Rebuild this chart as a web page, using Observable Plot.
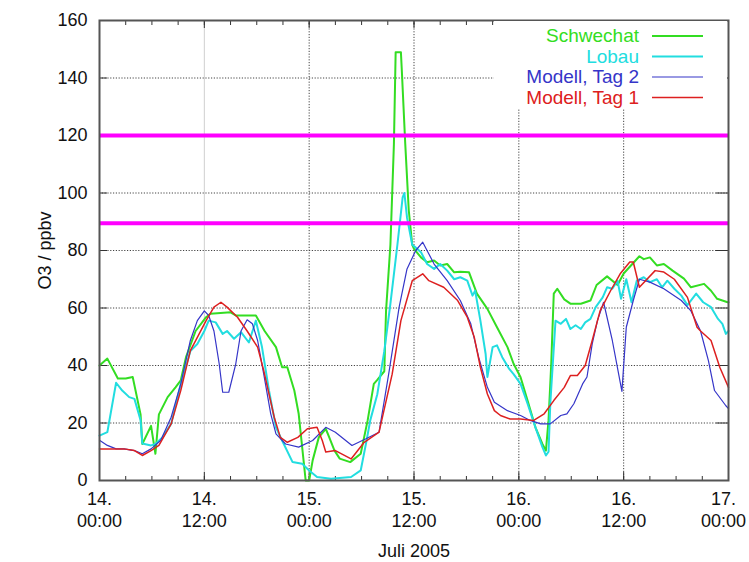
<!DOCTYPE html>
<html><head><meta charset="utf-8">
<script src="https://cdn.jsdelivr.net/npm/d3@7"></script>
<script src="https://cdn.jsdelivr.net/npm/@observablehq/plot@0.6"></script>
<style>
body{margin:0;background:#fff;}
#wrap{position:relative;width:749px;height:562px;font-family:"Liberation Sans",Arial,sans-serif;}
#legend{position:absolute;left:494px;top:21px;width:233px;height:87px;background:#fff;}
#legend .lab{position:absolute;right:88px;font-size:19px;line-height:22px;white-space:nowrap;}
#legend svg{position:absolute;left:0;top:0;}
</style></head>
<body><div id="wrap"></div>
<script>
// ---- data (hours after 14 July 2005 00:00, ppbv) ----
const schwechatH = [0,0.9,2.1,3,3.8,4.7,4.9,5.9,6.4,6.8,7.8,8.7,9.3,9.9,11,12.2,12.7,15,15.6,17.9,18.9,20.2,20.9,21.5,22.3,22.8,23.4,23.6,24,24.4,25.1,25.9,26.3,26.9,27.5,28.7,29.9,30.7,31.4,31.8,32.6,32.8,33.3,33.7,33.9,34.5,34.6,35,35.4,35.8,36,36.8,37.5,38.3,39,39.8,40.6,41.3,42.3,43.2,44.4,45.5,46.7,47.4,48.2,49,49.9,50.7,51.1,51.4,51.7,52,52.4,53.2,53.9,55.1,56.2,56.9,58.1,59.3,60,61.8,62.3,63,63.8,64.6,65.6,66.9,67.7,69.2,70,70.7,71.9,72];
const schwechatV = [40,42.4,35.5,35.5,36,23,12.7,19,9.3,23,29,32.4,34.8,42.9,52,56.8,58,58.5,57.4,57.4,52,46.4,39.4,39.4,31.3,23.2,5.8,0,0,7,15,18,15,10.4,7.6,6.4,9.3,21,33.6,35,38,59,82,117,149,149,143,117,94,82,80.6,77.6,75.9,76.5,74.8,75.3,72.4,72.6,72.4,65,59.7,53.3,46.4,40.6,35.9,27.8,18.5,12.7,10.4,21,40,65,66.7,63,61.5,61.5,62.6,68,71,68,72,78,77,77.6,74.8,75.3,73,70.2,67.2,68.4,66,63.2,62,62];

const lobauH = [0,0.9,1.9,2.6,3.4,4,4.7,4.9,5.9,6.4,7.2,8.2,9.3,10.4,11.2,12,12.5,13.3,14.1,14.6,15.4,16.2,17.1,17.9,18.6,19.4,20.2,20.9,22.1,23.2,24,24.9,26.5,28.8,29.9,30.5,31,31.8,32.6,33.3,34.1,34.7,34.9,35.2,35.8,36.2,36.8,37.5,38.3,39,39.8,40.6,41.3,42.1,42.7,43,43.6,44.2,44.4,45,45.5,46.1,46.9,47.4,48.2,49,49.9,50.7,51.1,51.4,51.6,52.2,52.8,53.4,53.9,54.5,55.1,55.6,56.2,56.8,57.6,58.1,58.7,59.3,59.7,60.3,60.9,61.5,62.3,63,63.8,64.4,65,65.8,66.6,67.3,68.3,69.1,70,70.8,71.3,71.7,72];
const lobauV = [15.6,16.8,34,31.3,29,28.4,21,12.9,12.2,12.7,15,19.7,33.6,45,47.5,52,55.6,55,51,52,49.3,51.6,48,55.6,46.4,31.3,18.5,13.9,6.4,5.8,3.5,1.2,0.6,1.2,3.5,12.8,21,30,45,61.5,82,98.5,100,91.5,82,81,79.4,75.3,73.6,75.3,73,70,70.7,69.5,64.3,66,55.6,44,36,46.4,47,42.9,38.8,37,33.6,26.7,18.5,11.6,8.7,10,26.7,55.6,54.5,56.2,52.7,54,52.7,55,56.2,60.3,63.7,67.2,66.7,69.5,63.2,70,62,69.5,70.7,69,70,67.2,69.5,66.7,64.3,61,65,62,60.3,56.2,54.5,51,52];

const tag2H = [0,0.9,1.9,2.8,4,4.9,5.9,7,8.2,9.3,10.4,11.2,12,12.5,13.1,13.7,14.1,14.8,15.6,16.2,16.9,17.5,18.1,18.8,19.6,20.2,21.3,22.8,24.4,25.9,27,28.9,30.5,32,33.1,34.3,35.2,36.2,37,38.3,39.8,41.3,42.5,43.4,44.4,45.2,46.7,48.2,49.3,50.5,51.6,52.8,53.5,54.3,55.3,55.8,56.4,57,57.7,58.7,59.8,60.3,61.1,61.8,63,64.6,66.6,67.7,68.8,69.7,70.4,71.7,72];
const tag2V = [14,12.2,11,11,10.4,9.3,11,13.9,22,33.6,48.7,55.6,59,57.4,52,40.6,30.7,30.7,40.6,52,55.9,54.5,48.7,37,23.2,16.2,12.7,11.6,13.9,18.5,16.8,12.2,14.5,16.8,37,60.3,73.6,80,82.9,75.3,69.5,62.6,54.5,42.9,32.4,27.2,24.3,22.6,20.9,19.7,19.7,22.6,23.2,26.7,33.6,36,47.5,55.6,62,48.7,31,53.3,62.6,70,69,66.7,62.6,59,52,41.7,31.3,26,25];

const tag1H = [0,1.9,2.8,4,4.9,5.9,6.8,8.2,9.3,10.4,11.2,12.2,13.1,13.9,14.6,15.8,16.9,18.1,18.8,20,20.7,21.5,22.7,23.8,24.9,25.5,25.9,27,28.8,30.3,32,33.5,34.5,35.8,37,37.7,39.4,41,42.1,42.9,43.6,44.4,45.2,45.9,47,48.2,49.7,50.9,52,53.2,53.9,54.7,55.6,56.4,57.3,58.5,59.6,60.7,61.1,61.8,63.6,64.6,65.8,67.3,68.4,68.8,70,71,72];
const tag1V = [11,11,11,10.4,8.7,10.4,12.2,19.7,31.3,45.2,49.8,55.6,60.3,62,60.3,56.8,52,46.4,38.2,22,15,13.3,15,18,18.5,13.9,9.9,10.4,7.5,13.3,16.8,37,55.6,69.5,71.9,69.5,67.2,62.6,56.8,49.8,39.4,30.1,24.3,22.6,21.4,21.4,20.9,23.2,27.8,32.4,36.5,36.5,40,48.7,59,66,71.9,76,76,67.2,73,72.5,70,63.7,53.3,52,48.7,39.4,32.4];

const seriesNames = ["Schwechat","Lobau","Modell, Tag 2","Modell, Tag 1"];
const seriesColors = ["#33dd22","#22dde0","#3535c8","#dd2020"];
const seriesWidths = [2,2,1.2,1.5];
const thresholds = [120, 89.5];
const yTicks = [0,20,40,60,80,100,120,140,160];
const yGrid = [20,40,60,80,100,120,140];
const xTickHours = [0,12,24,36,48,60,72];
const xTickLabels = ["14.\n00:00","14.\n12:00","15.\n00:00","15.\n12:00","16.\n00:00","16.\n12:00","17.\n00:00"];
const xGridDotted = [24,36,48,60];
const xGridLight = [12];
const minorHours = d3.range(0,73,3);

const t0 = Date.UTC(2005,6,14);
const toDate = h => new Date(t0 + h*3600000);
const mk = (H,V) => H.map((h,i)=>({t:toDate(h), v:V[i]}));
const series = [mk(schwechatH,schwechatV), mk(lobauH,lobauV), mk(tag2H,tag2V), mk(tag1H,tag1V)];
const labelMap = new Map(xTickHours.map((h,i)=>[+toDate(h), xTickLabels[i]]));

const W=749,H=562,mL=99,mR=21,mT=20,mB=82;
const pw=W-mL-mR, ph=H-mT-mB;
const font = '"Liberation Sans",Arial,sans-serif';
const innerTicks = xTickHours.slice(0,-1).map(toDate);
const lastTick = xTickHours.slice(-1).map(toDate);

const chart = Plot.plot({
  width:W, height:H, marginLeft:mL, marginRight:mR, marginTop:mT, marginBottom:mB,
  style:{fontFamily:font, fontSize:"18px", color:"#111", background:"white"},
  x:{type:"utc", domain:[toDate(0),toDate(72)]},
  y:{domain:[0,160]},
  marks:[
    Plot.ruleX(xGridLight.map(toDate), {stroke:"#cfcfcf", strokeWidth:1}),
    Plot.ruleX(xGridDotted.map(toDate), {stroke:"#444", strokeWidth:1, strokeDasharray:"1.2,1.6"}),
    Plot.ruleY(yGrid, {stroke:"#444", strokeWidth:1, strokeDasharray:"1.2,1.6"}),
    Plot.tickX(minorHours.map(toDate), {insetTop:ph-4, stroke:"#333"}),
    Plot.tickX(minorHours.map(toDate), {insetBottom:ph-5, stroke:"#333"}),
    Plot.tickX(xTickHours.map(toDate), {insetTop:ph-8, stroke:"#333"}),
    Plot.tickX(xTickHours.map(toDate), {insetBottom:ph-8, stroke:"#333"}),
    Plot.tickY(yTicks, {insetRight:pw-8, stroke:"#333"}),
    Plot.tickY(yTicks, {insetLeft:pw-12, stroke:"#333"}),
    ...series.map((s,i)=>Plot.line(s, {x:"t", y:"v", stroke:seriesColors[i], strokeWidth:seriesWidths[i], strokeLinejoin:"round"})),
    Plot.ruleY(thresholds, {stroke:"#ff00ff", strokeWidth:4}),
    Plot.frame({stroke:"#555", strokeWidth:2}),
    Plot.axisX({ticks:innerTicks, tickSize:0, tickPadding:10, lineHeight:1.17, fontSize:18,
      tickFormat:d=>labelMap.get(+d), label:"Juli 2005", labelAnchor:"center", labelArrow:"none", labelOffset:76, fill:"#111"}),
    Plot.axisX({ticks:lastTick, tickSize:0, tickPadding:10, lineHeight:1.17, fontSize:18, dx:-5,
      tickFormat:d=>labelMap.get(+d), label:null, fill:"#111"}),
    Plot.axisY({ticks:yTicks, tickSize:0, tickPadding:12, fontSize:18, tickFormat:d=>String(d),
      label:"O3 / ppbv", labelAnchor:"center", labelArrow:"none", labelOffset:61, fill:"#111"})
  ]
});
const wrap = document.getElementById("wrap");
wrap.appendChild(chart);

// legend inside the plot frame (top-right)
const leg = document.createElement("div");
leg.id = "legend";
const ns = "http://www.w3.org/2000/svg";
const lsvg = document.createElementNS(ns,"svg");
lsvg.setAttribute("width","233"); lsvg.setAttribute("height","87");
leg.appendChild(lsvg);
seriesNames.forEach((n,i)=>{
  const cy = 15 + i*20.5;
  const lab = document.createElement("div");
  lab.className="lab"; lab.textContent=n; lab.style.color=seriesColors[i];
  lab.style.top=(cy-11)+"px";
  leg.appendChild(lab);
  const ln = document.createElementNS(ns,"line");
  ln.setAttribute("x1",158); ln.setAttribute("x2",209);
  ln.setAttribute("y1",cy); ln.setAttribute("y2",cy);
  ln.setAttribute("stroke",seriesColors[i]);
  ln.setAttribute("stroke-width",seriesWidths[i]);
  lsvg.appendChild(ln);
});
wrap.appendChild(leg);
</script>
</body></html>
